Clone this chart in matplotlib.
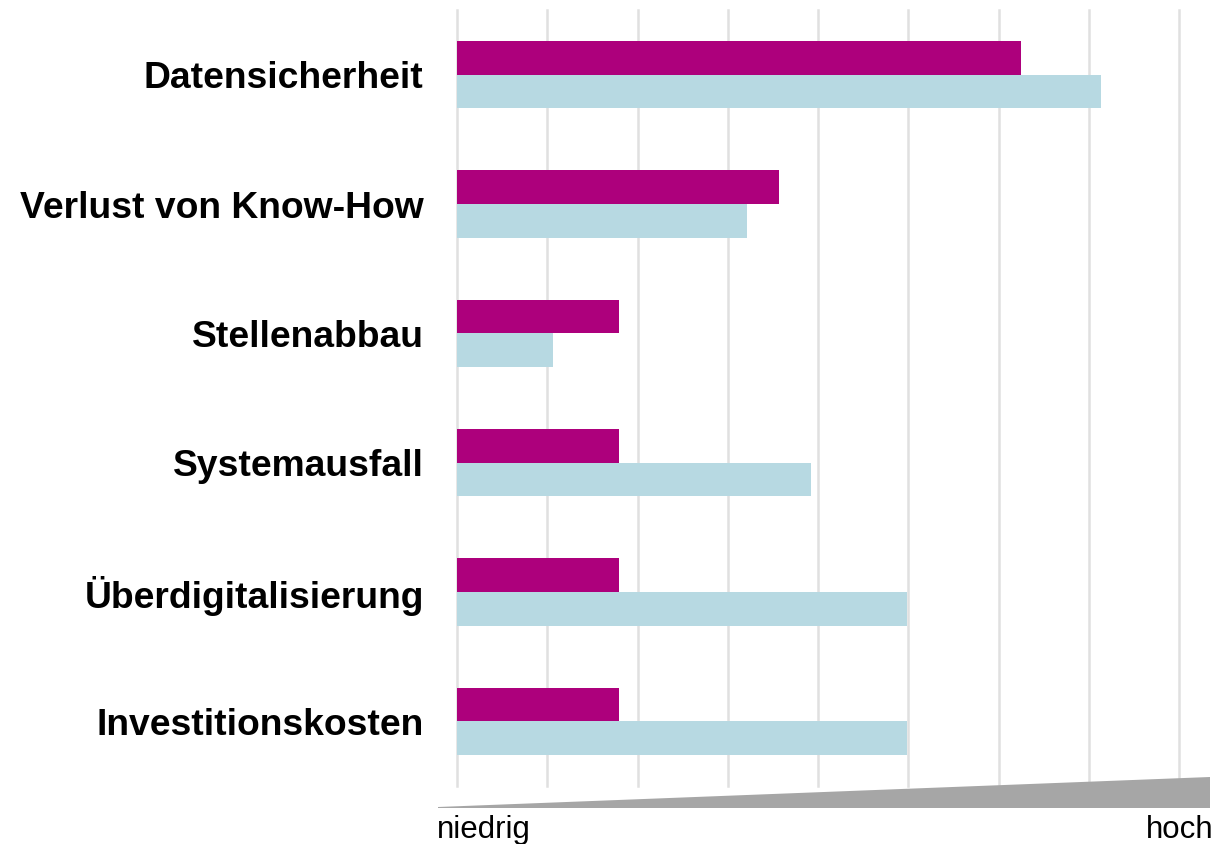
import matplotlib
matplotlib.use("Agg")
import numpy as np
import matplotlib.pyplot as plt
from matplotlib.patches import Polygon

# categories, top to bottom
categories = [
  "Datensicherheit",
  "Verlust von Know-How",
  "Stellenabbau",
  "Systemausfall",
  "Überdigitalisierung",
  "Investitionskosten",
]

# two series (scale 0..8, one gridline per unit)
series_a = [6.25, 3.57, 1.79, 1.79, 1.79, 1.79]   # magenta
series_b = [7.14, 3.21, 1.06, 3.92, 4.99, 4.99]   # light blue

scale_low = "niedrig"
scale_high = "hoch"

COLOR_A = "#AD007C"
COLOR_B = "#B7D9E2"
COLOR_GRID = "#E0E0E0"
COLOR_WEDGE = "#A6A6A6"

W, H = 1216, 844
DPI = 100

plt.rcParams['font.family'] = ['Liberation Sans', 'DejaVu Sans']


def main():
  fig = plt.figure(figsize=(W / DPI, H / DPI), dpi=DPI, facecolor='w')
  # axes in pixel units: left 457, right 1179, top 10, bottom 786
  left, right, top, bottom = 457, 1179, 10, 786
  ax = fig.add_axes([left / W, 1 - bottom / H, (right - left) / W, (bottom - top) / H])
  ax.patch.set_visible(False)

  index = np.arange(len(categories))
  height = 0.26

  ax.barh(index - height / 2, series_a, height, color=COLOR_A, zorder=3)
  ax.barh(index + height / 2, series_b, height, color=COLOR_B, zorder=3)

  ax.set_xlim(0, 8)
  ax.set_ylim(5.5, -0.5)

  for x in range(0, 9):
    ax.axvline(x, color=COLOR_GRID, linewidth=1.8, zorder=1, clip_on=False)

  ax.set_yticks(index)
  ax.set_yticklabels(categories, fontsize=26.8, fontweight='bold')
  ax.tick_params(axis='y', length=0, pad=24)
  ax.set_xticks([])
  for s in ax.spines.values():
    s.set_visible(False)

  # gray wedge "niedrig -> hoch" below the chart
  ov = fig.add_axes([0, 0, 1, 1], zorder=5)
  ov.patch.set_visible(False)
  ov.set_xlim(0, W)
  ov.set_ylim(H, 0)
  ov.axis('off')
  ov.add_patch(Polygon([[438, 807], [1210, 777], [1210, 808], [438, 808]],
                       closed=True, facecolor=COLOR_WEDGE, edgecolor='none'))
  ov.text(437, 830, scale_low, fontsize=22.5, ha='left', va='center')
  ov.text(1213, 830, scale_high, fontsize=22.5, ha='right', va='center')

  fig.savefig("out.png", dpi=DPI, facecolor='w')
  plt.close()


if __name__ == "__main__":
  main()
